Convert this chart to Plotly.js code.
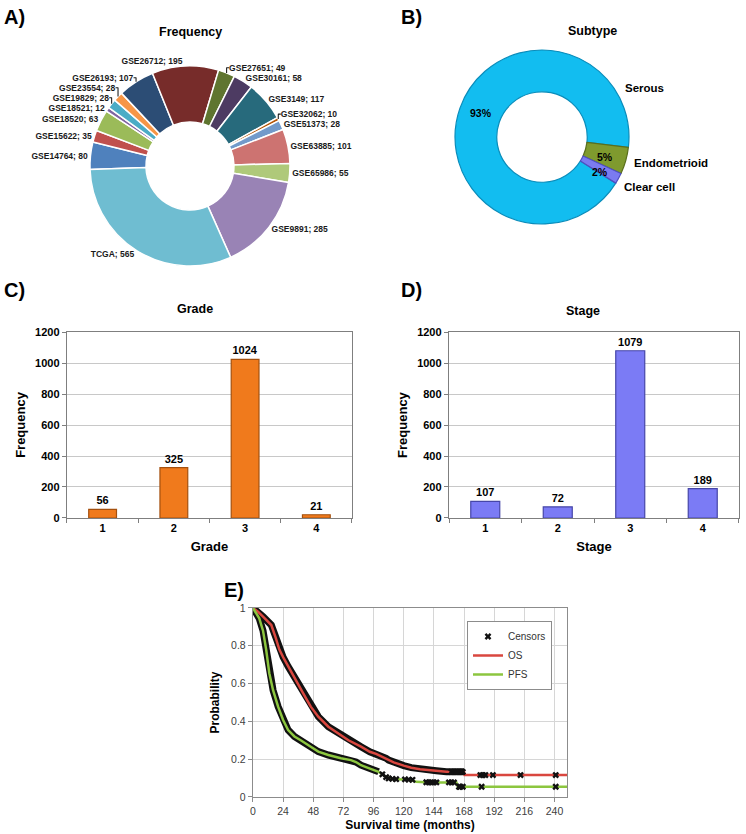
<!DOCTYPE html>
<html>
<head>
<meta charset="utf-8">
<script src="https://cdn.plot.ly/plotly-3.0.1.min.js"></script>
<style>
  html, body { margin: 0; padding: 0; background: #fff; }
  #plotDiv { width: 746px; height: 834px; }
</style>
</head>
<body>
<div id="plotDiv"></div>
<script>
// A) datasets
let datasets = ['GSE14764', 'GSE15622', 'GSE18520', 'GSE18521', 'GSE19829', 'GSE23554',
  'GSE26193', 'GSE26712', 'GSE27651', 'GSE30161', 'GSE3149', 'GSE32062', 'GSE51373',
  'GSE63885', 'GSE65986', 'GSE9891', 'TCGA'];
let datasetCounts = [80, 35, 63, 12, 28, 28, 107, 195, 49, 58, 117, 10, 28, 101, 55, 285, 565];

// B) subtype
let subtypes = ['Serous', 'Endometrioid', 'Clear cell'];
let subtypePct = [93, 5, 2];

// C) grade
let grades = ['1', '2', '3', '4'];
let gradeCounts = [56, 325, 1024, 21];

// D) stage
let stages = ['1', '2', '3', '4'];
let stageCounts = [107, 72, 1079, 189];

// E) Kaplan-Meier curves (read off the picture)
let osTime = [0, 4, 8, 14.6, 18, 21, 24, 28, 34, 40, 46, 52, 60, 68, 76, 86, 93, 98, 103, 106, 108,
  112, 120, 126, 133, 140, 146, 154, 168, 168.5, 250];
let osSurv = [1.0, 0.98, 0.954, 0.91, 0.845, 0.78, 0.74, 0.69, 0.62, 0.548, 0.478, 0.425, 0.372,
  0.337, 0.30, 0.266, 0.239, 0.228, 0.212, 0.205, 0.195, 0.183, 0.166, 0.155, 0.147, 0.142, 0.139,
  0.133, 0.133, 0.116, 0.116];
let pfsTime = [0, 2, 5, 8, 10.5, 13, 16, 20, 24, 28, 33, 38, 42, 46, 52, 60, 70, 78, 82, 86, 90,
  96, 100, 103, 105, 109, 112, 119, 126, 130, 141, 162, 163, 250];
let pfsSurv = [1.0, 0.98, 0.945, 0.88, 0.78, 0.655, 0.565, 0.478, 0.407, 0.354, 0.32, 0.30, 0.285,
  0.266, 0.24, 0.222, 0.205, 0.195, 0.185, 0.168, 0.158, 0.143, 0.133, 0.12, 0.11, 0.098, 0.095,
  0.093, 0.09, 0.08, 0.077, 0.077, 0.054, 0.054];

// censored observations outside the dense band
let osCensorTime = [158, 160, 162, 164, 166, 167, 181, 183, 185, 191, 213, 241];
let osCensorSurv = [0.133, 0.133, 0.133, 0.133, 0.133, 0.133, 0.116, 0.116, 0.116, 0.116, 0.116, 0.116];
let pfsCensorTime = [103, 106, 108, 111, 114, 121, 124, 127, 138, 140, 142, 144, 146, 156, 158, 160,
  164, 165, 167, 182, 241];
let pfsCensorSurv = [0.12, 0.105, 0.098, 0.096, 0.094, 0.093, 0.092, 0.091, 0.078, 0.077, 0.077,
  0.077, 0.077, 0.077, 0.077, 0.077, 0.054, 0.054, 0.054, 0.054, 0.054];

let osBandEnd = 168;
let pfsBandEnd = 101;

// styles
let datasetColors = ['#4F81BD', '#C0504D', '#9BBB59', '#8064A2', '#4BACC6', '#F79646',
  '#2C4D75', '#772C2A', '#5F7530', '#4D3B62', '#276A7C', '#B65708', '#729ACA', '#CD7371',
  '#AFC97A', '#9983B5', '#6FBDD1'];
let subtypeColors = ['#12BDF0', '#7F9A2E', '#7B7BF0'];
let subtypeEdges = ['#0A8CBA', '#5A6F1C', '#4F4FC0'];

let F = 'Liberation Sans, Arial, sans-serif';
let bold = (size, color) => ({ family: F, size: size, color: color || '#000', weight: 'bold' });

let band = (t, s, end) => {
  let idx = t.map((v, i) => i).filter((i) => t[i] <= end);
  return { x: idx.map((i) => t[i]), y: idx.map((i) => s[i]) };
};
let osBand = band(osTime, osSurv, osBandEnd);
let pfsBand = band(pfsTime, pfsSurv, pfsBandEnd);

let traces = [
  {
    type: 'pie',
    labels: datasets,
    values: datasetCounts,
    sort: false,
    direction: 'clockwise',
    rotation: 268,
    hole: 0.44,
    domain: { x: [0.1206, 0.3887], y: [0.6811, 0.9209] },
    marker: { colors: datasetColors, line: { color: '#fff', width: 1.5 } },
    texttemplate: '%{label}; %{value}',
    textposition: 'outside',
    outsidetextfont: bold(8.5, '#1a1a1a'),
    showlegend: false,
  },
  {
    type: 'pie',
    labels: subtypes,
    values: subtypePct,
    sort: false,
    direction: 'clockwise',
    rotation: 122,
    hole: 0.52,
    domain: { x: [0.6099, 0.8432], y: [0.7314, 0.94] },
    marker: { colors: subtypeColors, line: { color: subtypeEdges, width: 1.2 } },
    textinfo: 'none',
    showlegend: false,
  },
  {
    type: 'bar',
    x: grades,
    y: gradeCounts,
    xaxis: 'x',
    yaxis: 'y',
    width: 0.39,
    marker: { color: '#F07A1C', line: { color: '#A4500E', width: 1.2 } },
    text: gradeCounts,
    textposition: 'outside',
    textfont: bold(11),
    cliponaxis: false,
    showlegend: false,
  },
  {
    type: 'bar',
    x: stages,
    y: stageCounts,
    xaxis: 'x2',
    yaxis: 'y2',
    width: 0.4,
    marker: { color: '#7B7BF5', line: { color: '#4646A8', width: 1.2 } },
    text: stageCounts,
    textposition: 'outside',
    textfont: bold(11),
    cliponaxis: false,
    showlegend: false,
  },
  // black censor bands
  {
    type: 'scatter', mode: 'lines', x: osBand.x, y: osBand.y, xaxis: 'x3', yaxis: 'y3',
    line: { color: '#111', width: 7 }, showlegend: false, hoverinfo: 'skip',
  },
  {
    type: 'scatter', mode: 'lines', x: pfsBand.x, y: pfsBand.y, xaxis: 'x3', yaxis: 'y3',
    line: { color: '#111', width: 7 }, showlegend: false, hoverinfo: 'skip',
  },
  {
    type: 'scatter', mode: 'lines', name: 'OS', x: osTime, y: osSurv, xaxis: 'x3', yaxis: 'y3',
    line: { color: '#D9473F', width: 2.5 }, legendrank: 2,
  },
  {
    type: 'scatter', mode: 'lines', name: 'PFS', x: pfsTime, y: pfsSurv, xaxis: 'x3', yaxis: 'y3',
    line: { color: '#8CC63F', width: 2.5 }, legendrank: 3,
  },
  {
    type: 'scatter', mode: 'markers', name: 'Censors', x: osCensorTime, y: osCensorSurv,
    xaxis: 'x3', yaxis: 'y3', legendgroup: 'c', legendrank: 1,
    marker: { symbol: 'x', size: 6, color: '#111' },
  },
  {
    type: 'scatter', mode: 'markers', name: 'Censors', x: pfsCensorTime, y: pfsCensorSurv,
    xaxis: 'x3', yaxis: 'y3', legendgroup: 'c', showlegend: false,
    marker: { symbol: 'x', size: 6, color: '#111' },
  },
];

let barX = (domain, anchor, title) => ({
  domain: domain, anchor: anchor, type: 'category',
  showline: true, linecolor: '#7F7F7F', linewidth: 1.2, mirror: true,
  ticks: 'outside', tickson: 'boundaries', ticklen: 4, tickcolor: '#7F7F7F',
  tickfont: bold(11), showgrid: false,
  title: { text: title, font: bold(13), standoff: 8 },
});
let barY = (domain, anchor) => ({
  domain: domain, anchor: anchor, range: [0, 1200], dtick: 200,
  showline: true, linecolor: '#7F7F7F', linewidth: 1.2, mirror: true,
  ticks: 'outside', ticklen: 4, tickcolor: '#7F7F7F',
  gridcolor: '#C8C8C8', tickfont: bold(11), zeroline: false,
  title: { text: 'Frequency', font: bold(13), standoff: 6 },
});

let ann = (text, x, y, font, xanchor, yanchor) => ({
  text: text, x: x, y: y, xref: 'paper', yref: 'paper', showarrow: false,
  font: font, xanchor: xanchor || 'center', yanchor: yanchor || 'middle',
});

let letter = bold(20);
let annotations = [
  ann('A)', 0.003, 0.995, letter, 'left', 'top'),
  ann('B)', 0.535, 0.995, letter, 'left', 'top'),
  ann('C)', 0.003, 0.668, letter, 'left', 'top'),
  ann('D)', 0.535, 0.668, letter, 'left', 'top'),
  ann('E)', 0.298, 0.308, letter, 'left', 'top'),
  ann('Frequency', 0.2547, 0.9616, bold(12.5)),
  ann('Subtype', 0.7949, 0.9628, bold(12.5)),
  ann('Grade', 0.2614, 0.6295, bold(12.5)),
  ann('Stage', 0.7815, 0.6271, bold(12.5)),
  ann(subtypePct[0] + '%', 0.6448, 0.8645, bold(10.5)),
  ann(subtypePct[1] + '%', 0.8114, 0.8114, bold(10.5)),
  ann(subtypePct[2] + '%', 0.8039, 0.7942, bold(10.5)),
  ann(subtypes[0], 0.8642, 0.8941, bold(11.5)),
  ann(subtypes[1], 0.8999, 0.8050, bold(11.5)),
  ann(subtypes[2], 0.870, 0.776, bold(11.5)),
];

let tickE = { family: F, size: 10.5, color: '#404040' };

let layout = {
  width: 746,
  height: 834,
  margin: { l: 0, r: 0, t: 0, b: 0 },
  paper_bgcolor: '#fff',
  plot_bgcolor: '#fff',
  font: { family: F, color: '#000' },
  xaxis: barX([0.0898, 0.4718], 'y', 'Grade'),
  yaxis: barY([0.3789, 0.6019], 'x'),
  xaxis2: barX([0.6019, 0.9906], 'y2', 'Stage'),
  yaxis2: barY([0.3789, 0.6019], 'x2'),
  xaxis3: {
    domain: [0.3391, 0.7601], anchor: 'y3', range: [0, 250], tick0: 0, dtick: 24,
    showline: true, linecolor: '#8C8C8C', linewidth: 1.2, mirror: true,
    ticks: 'outside', ticklen: 4, tickcolor: '#8C8C8C', gridcolor: '#D6D6D6',
    zeroline: false, tickfont: tickE,
    title: { text: 'Survival time (months)', font: bold(12), standoff: 4 },
  },
  yaxis3: {
    domain: [0.0444, 0.271], anchor: 'x3', range: [0, 1], dtick: 0.2,
    showline: true, linecolor: '#8C8C8C', linewidth: 1.2, mirror: true,
    ticks: 'outside', ticklen: 4, tickcolor: '#8C8C8C', gridcolor: '#D6D6D6',
    zeroline: false, tickfont: tickE,
    title: { text: 'Probability', font: bold(12), standoff: 8 },
  },
  legend: {
    x: 0.626, y: 0.2554, xanchor: 'left', yanchor: 'top',
    bgcolor: '#fff', bordercolor: '#8C8C8C', borderwidth: 1,
    font: { family: F, size: 10, color: '#333' },
    itemwidth: 30, tracegroupgap: 0,
  },
  annotations: annotations,
  showlegend: true,
};

Plotly.newPlot('plotDiv', traces, layout, { staticPlot: true });
</script>
</body>
</html>
